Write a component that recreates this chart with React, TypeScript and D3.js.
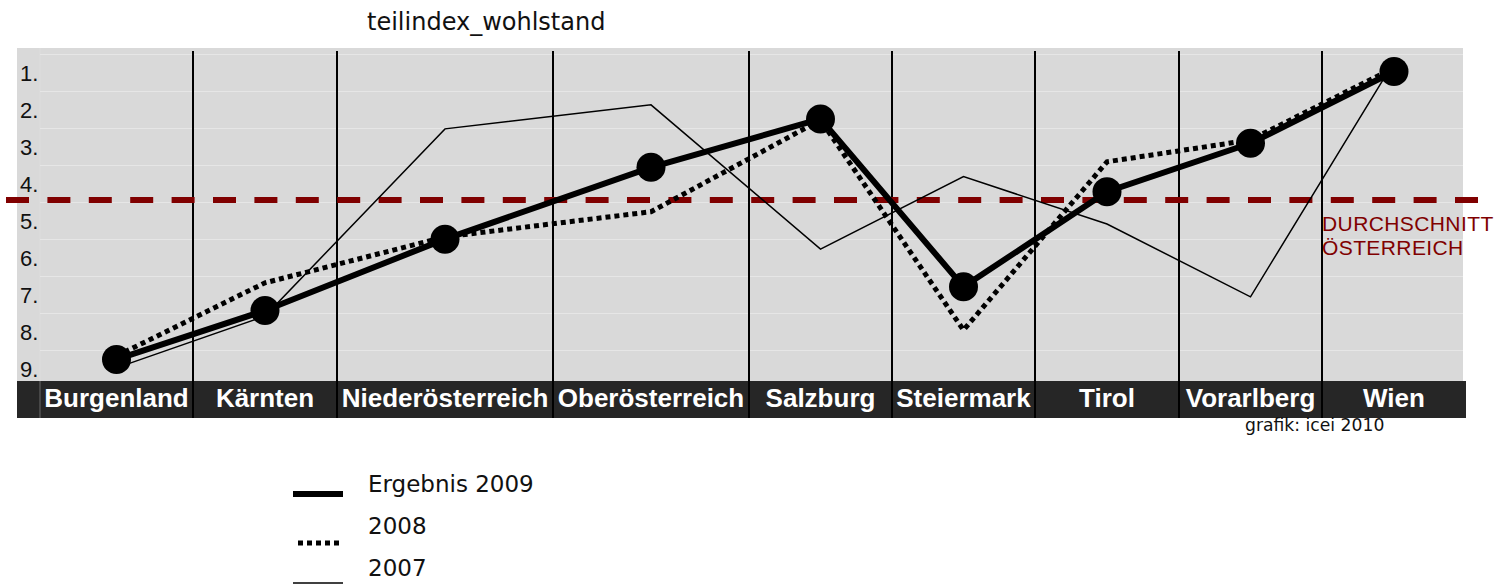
import React from "react";
import * as d3 from "d3";

const width = 1507;
const height = 585;

// data
const regions = ["Burgenland", "Kärnten", "Niederösterreich", "Oberösterreich", "Salzburg", "Steiermark", "Tirol", "Vorarlberg", "Wien"];
const result2009 = [8.74, 7.42, 5.49, 3.55, 2.24, 6.78, 4.21, 2.9, 0.96];
const result2008 = [8.65, 6.67, 5.43, 4.75, 2.27, 7.95, 3.4, 2.81, 0.86];
const result2007 = [8.97, 7.57, 2.51, 1.86, 5.76, 3.8, 5.08, 7.05, 0.7];
const average = 4.43;
const rankTicks = [1, 2, 3, 4, 5, 6, 7, 8, 9];
const legendLabels = ["Ergebnis 2009", "2008", "2007"];

// layout
const plotLeft = 17;
const axisW = 23;
const plotTop = 48;
const bandTop = 381;
const bandBottom = 418;
const colWidths = [153, 144, 216, 196, 143, 143, 144, 143, 144];

const edges = [plotLeft + axisW, ...Array.from(d3.cumsum(colWidths), c => plotLeft + axisW + c)];
const plotRight = edges[edges.length - 1];
const centers = regions.map((_, i) => (edges[i] + edges[i + 1]) / 2);

const x = d3.scaleOrdinal<string, number>().domain(regions).range(centers);
const y = d3.scaleLinear().domain([1, 9]).range([73, 369]);

const line = d3.line<number>()
    .x((_, i) => x(regions[i]))
    .y(d => y(d));

const darkRed = "#800000";
const sans = "'Liberation Sans', Arial, sans-serif";
const verd = "'DejaVu Sans', Verdana, sans-serif";

const series = [
    { values: result2009, width: 6, dash: undefined as string | undefined, x0: 293, ly: 494 },
    { values: result2008, width: 5, dash: "5,4", x0: 298, ly: 543 },
    { values: result2007, width: 1.5, dash: undefined, x0: 293, ly: 583 },
];

const App = () => {
    return (
        <svg width={width} height={height} style={{ position: "absolute", left: 0, top: 0 }}>
            <rect width={width} height={height} fill="white" />
            <text x={367} y={30} fontFamily={verd} fontSize={24} fill="#111">teilindex_wohlstand</text>

            {/* plot background */}
            <rect x={plotLeft} y={plotTop} width={plotRight - plotLeft - 3} height={bandTop - plotTop} fill="#d9d9d9" />
            {rankTicks.map(r => (
                <line key={"g" + r} x1={edges[0]} x2={plotRight - 3} y1={y(r - 0.5)} y2={y(r - 0.5)} stroke="#e6e6e6" strokeWidth={1.2} />
            ))}

            {/* category band */}
            <rect x={plotLeft} y={bandTop} width={plotRight - plotLeft} height={bandBottom - bandTop} fill="#262626" />
            <line x1={edges[0]} x2={edges[0]} y1={plotTop} y2={bandBottom} stroke="#e8e8e8" strokeOpacity={0.35} strokeWidth={1} />
            {edges.slice(1, -1).map((e, i) => (
                <line key={"v" + i} x1={e} x2={e} y1={51} y2={bandBottom} stroke="#000" strokeWidth={2} />
            ))}
            {regions.map(r => (
                <text key={r} x={x(r)} y={407} textAnchor="middle" fontFamily={sans} fontWeight="bold" fontSize={26} fill="#fff">{r}</text>
            ))}

            {/* y labels */}
            {rankTicks.map(r => (
                <text key={"t" + r} x={20} y={y(r) + 7.5} fontFamily={sans} fontSize={22} fill="#111">{r}.</text>
            ))}

            {/* average */}
            <line x1={6} x2={1480} y1={y(average)} y2={y(average)} stroke={darkRed} strokeWidth={6} strokeDasharray="23,18.4" />
            <text x={1322} y={230.5} fontFamily={sans} fontSize={21} letterSpacing={0.4} fill={darkRed}>DURCHSCHNITT</text>
            <text x={1322} y={255} fontFamily={sans} fontSize={21} letterSpacing={0.4} fill={darkRed}>ÖSTERREICH</text>

            {/* series */}
            {series.slice().reverse().map((s, i) => (
                <path key={"s" + i} d={line(s.values) ?? ""} fill="none" stroke="#000" strokeWidth={s.width}
                    strokeDasharray={s.dash} strokeLinejoin="miter" />
            ))}
            {result2009.map((v, i) => (
                <circle key={"c" + i} cx={x(regions[i])} cy={y(v)} r={14.5} fill="#000" />
            ))}

            <text x={1245} y={431} fontFamily={verd} fontSize={17.2} fill="#111">grafik: icei 2010</text>

            {/* legend */}
            {series.map((s, i) => (
                <g key={"l" + i}>
                    <line x1={s.x0} x2={343} y1={s.ly} y2={s.ly}
                        stroke="#000" strokeWidth={s.width} strokeDasharray={s.dash} />
                    <text x={368} y={492 + i * 42} fontFamily={verd} fontSize={23} fill="#111">{legendLabels[i]}</text>
                </g>
            ))}
        </svg>
    );
};

export default App;
